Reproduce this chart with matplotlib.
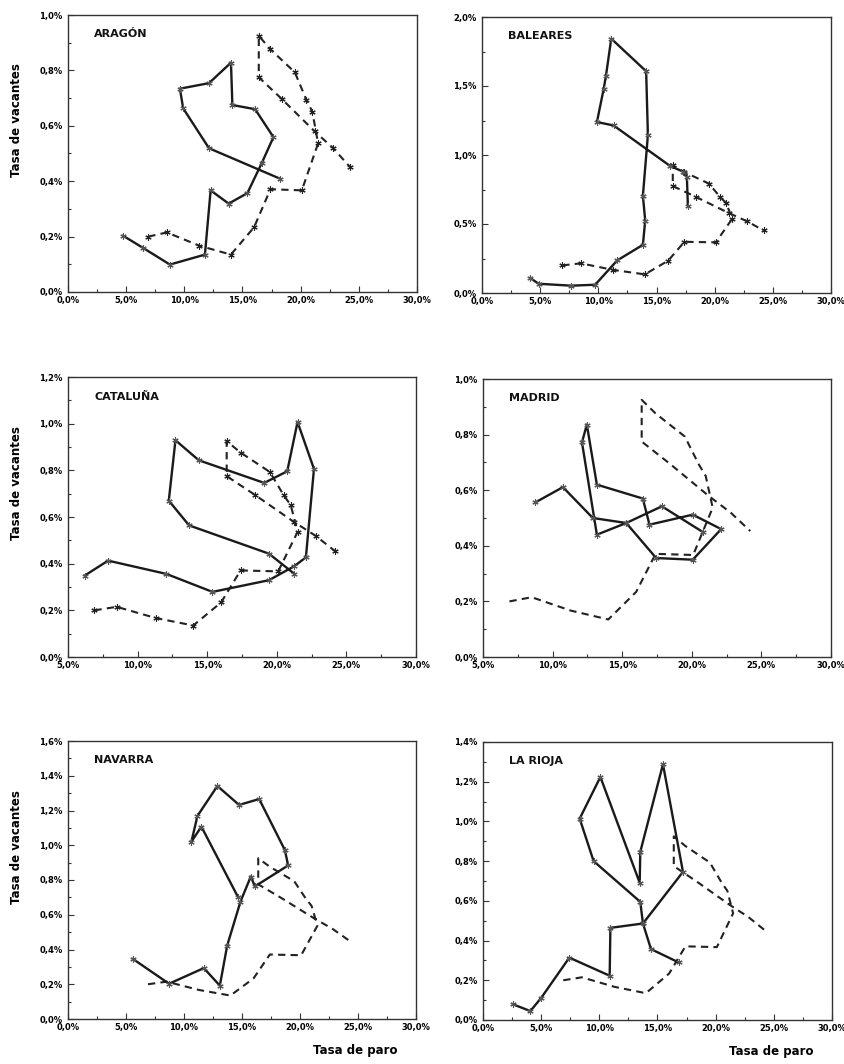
import matplotlib
matplotlib.use("Agg")
import matplotlib.pyplot as plt
from matplotlib.ticker import MultipleLocator, FuncFormatter

# curva nacional (España), discontinua, igual en todos los paneles
esp_paro = [6.9, 8.5, 11.3, 14.0, 16.0, 17.4, 20.1, 21.5, 21.0, 20.5, 19.5, 17.4, 16.4, 16.4, 18.4, 21.2, 22.8, 24.2]
esp_vac = [0.200, 0.215, 0.167, 0.135, 0.234, 0.371, 0.367, 0.537, 0.651, 0.693, 0.793, 0.876, 0.925, 0.775, 0.696, 0.580, 0.519, 0.453]

aragon_paro = [4.74, 6.46, 8.76, 11.77, 12.26, 13.81, 15.42, 16.65, 17.66, 16.08, 14.13, 14.01, 12.12, 9.62, 9.90, 12.12, 18.23]
aragon_vac = [0.203, 0.159, 0.099, 0.135, 0.367, 0.319, 0.357, 0.465, 0.559, 0.660, 0.675, 0.828, 0.754, 0.734, 0.663, 0.519, 0.409]

baleares_paro = [4.15, 4.87, 7.67, 9.73, 11.62, 13.83, 14.03, 13.83, 14.26, 14.11, 11.11, 10.65, 10.45, 9.88, 11.31, 16.18, 17.27, 17.61, 17.70]
baleares_vac = [0.108, 0.067, 0.053, 0.060, 0.236, 0.349, 0.525, 0.704, 1.145, 1.607, 1.843, 1.571, 1.475, 1.239, 1.214, 0.920, 0.880, 0.843, 0.627]

cataluna_paro = [6.20, 7.88, 12.07, 15.38, 19.43, 21.25, 22.09, 22.67, 21.49, 20.75, 19.10, 14.40, 12.72, 12.24, 13.70, 19.43, 21.25]
cataluna_vac = [0.349, 0.413, 0.356, 0.279, 0.329, 0.389, 0.427, 0.806, 1.007, 0.796, 0.746, 0.843, 0.929, 0.670, 0.564, 0.443, 0.357]

madrid_paro = [8.76, 10.74, 12.89, 15.29, 17.44, 20.07, 22.11, 20.07, 16.96, 16.48, 13.18, 12.46, 12.11, 13.18, 15.29, 17.85, 20.84]
madrid_vac = [0.556, 0.611, 0.500, 0.482, 0.356, 0.350, 0.460, 0.512, 0.476, 0.570, 0.620, 0.836, 0.772, 0.440, 0.482, 0.542, 0.448]

navarra_paro = [5.61, 8.71, 11.71, 13.09, 13.72, 14.87, 15.76, 16.11, 18.98, 18.69, 16.48, 14.75, 12.88, 11.16, 10.64, 11.50, 14.67]
navarra_vac = [0.345, 0.203, 0.293, 0.192, 0.422, 0.676, 0.820, 0.763, 0.884, 0.973, 1.266, 1.232, 1.341, 1.169, 1.021, 1.107, 0.700]

rioja_paro = [2.58, 4.07, 5.01, 7.42, 10.89, 10.95, 13.75, 17.19, 15.47, 13.52, 13.47, 10.09, 8.31, 9.51, 13.52, 13.75, 14.44, 16.82]
rioja_vac = [0.079, 0.045, 0.112, 0.314, 0.223, 0.464, 0.486, 0.746, 1.288, 0.847, 0.691, 1.224, 1.014, 0.800, 0.595, 0.486, 0.357, 0.290]

regiones = ["ARAGÓN", "BALEARES", "CATALUÑA", "MADRID", "NAVARRA", "LA RIOJA"]
paro = [aragon_paro, baleares_paro, cataluna_paro, madrid_paro, navarra_paro, rioja_paro]
vacantes = [aragon_vac, baleares_vac, cataluna_vac, madrid_vac, navarra_vac, rioja_vac]
x_min = [0, 0, 5, 5, 0, 0]
y_max = [1.0, 2.0, 1.2, 1.0, 1.6, 1.4]
y_paso = [0.2, 0.5, 0.2, 0.2, 0.2, 0.2]
marcas_nacional = [True, True, True, False, False, False]

# posicion de cada panel en pixeles: izquierda, arriba, derecha, abajo
W, H = 845, 1064
cajas = [(68, 15, 417, 292), (482, 17, 831, 293),
         (68, 377, 416, 657), (483, 379, 831, 657),
         (68, 741, 416, 1019), (483, 742, 832, 1020)]

fig = plt.figure(figsize=(W / 100, H / 100), dpi=100)
fmt = FuncFormatter(lambda v, p: f"{v:.1f}%".replace(".", ","))
asterisco = (6, 2, 0)
tick_font = ["Liberation Sans Narrow", "DejaVu Sans"]

for i, nombre in enumerate(regiones):
    l, t, r, b = cajas[i]
    ax = fig.add_axes([l / W, 1 - b / H, (r - l) / W, (b - t) / H])

    ax.plot(esp_paro, esp_vac, color="#222222", lw=1.5, ls=(0, (3.5, 2.5)),
            marker=asterisco if marcas_nacional[i] else None, ms=4.5, mew=0.8)
    ax.plot(paro[i], vacantes[i], color="#1a1a1a", lw=1.7,
            marker=asterisco, ms=4.5, mew=0.8, mec="#555555")

    ax.set_xlim(x_min[i], 30)
    ax.set_ylim(0, y_max[i])
    ax.xaxis.set_major_locator(MultipleLocator(5))
    ax.xaxis.set_minor_locator(MultipleLocator(2.5))
    ax.yaxis.set_major_locator(MultipleLocator(y_paso[i]))
    ax.yaxis.set_minor_locator(MultipleLocator(y_paso[i] / 2))
    ax.xaxis.set_major_formatter(fmt)
    ax.yaxis.set_major_formatter(fmt)
    ax.tick_params(which="both", direction="in", color="#333333", width=0.8)
    ax.tick_params(axis="x", pad=3)
    ax.tick_params(axis="y", pad=4)
    ax.tick_params(which="major", length=4)
    ax.tick_params(which="minor", length=2.5)
    for lab in ax.get_xticklabels() + ax.get_yticklabels():
        lab.set_family(tick_font)
        lab.set_fontsize(6)
        lab.set_fontweight("bold")
    # la etiqueta 0,0% del eje y queda algo por encima del eje
    ax.get_yticklabels()[0].set_verticalalignment("bottom")
    for sp in ax.spines.values():
        sp.set_color("#333333")
        sp.set_linewidth(1.0)

    ax.text(0.075, 0.93, nombre, transform=ax.transAxes, fontsize=8,
            fontweight="bold", va="center", ha="left", color="#111111")

    if i % 2 == 0:
        ax.set_ylabel("Tasa de vacantes", fontsize=8.5, fontweight="bold")
        ax.yaxis.set_label_coords(-0.13, 0.62)
    if i >= 4:
        ax.set_xlabel("Tasa de paro", fontsize=8.5, fontweight="bold")
        ax.xaxis.set_label_coords(0.825, -0.09)

fig.savefig("out.png", dpi=100)
plt.close(fig)
